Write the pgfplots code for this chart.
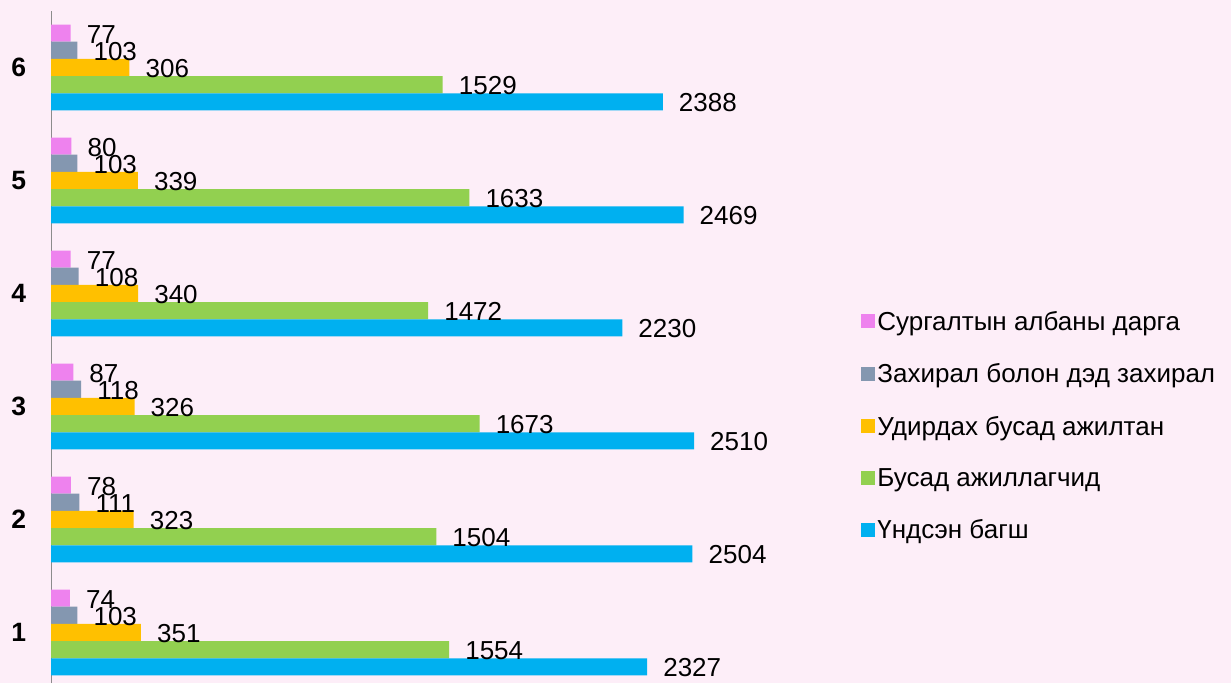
\documentclass[border=0pt]{standalone}
\usepackage{pgfplots}
\pgfplotsset{compat=1.18}
\usepackage{fontspec}
\setmainfont{Liberation Sans}
\definecolor{bgpink}{HTML}{FDEEF8}
\definecolor{cpink}{HTML}{EE82EE}
\definecolor{cgrey}{HTML}{8497B0}
\definecolor{cgold}{HTML}{FFC000}
\definecolor{cgreen}{HTML}{92D050}
\definecolor{cblue}{HTML}{00B0F0}
\begin{document}
\begin{tikzpicture}[x=1pt,y=1pt]
\fill[bgpink] (0,0) rectangle (1231,683);
\begin{axis}[
  at={(51pt,0pt)}, anchor=south west,
  scale only axis, width=643pt, height=672pt,
  xmin=0, xmax=2510, ymin=0.553, ymax=6.50,
  clip=false,
  xbar, bar width=0.152,
  axis x line=none, axis y line*=left,
  y axis line style={draw=gray!90},
  ytick={1,2,3,4,5,6}, ytick style={draw=none},
  /pgf/number format/assume math mode=true,
  /pgf/number format/1000 sep={},
  yticklabel style={font=\fontsize{26.5}{26.5}\selectfont\bfseries, xshift=-17pt},
  nodes near coords,
  every node near coord/.append style={font=\fontsize{26}{26}\selectfont, anchor=west, inner sep=0pt, xshift=16pt, yshift=-1pt, black},
  legend cell align=left,
  legend image code/.code={\fill[#1,draw=none] (0pt,-7pt) rectangle (14pt,7pt);},
  legend style={draw=none, fill=none, font=\fontsize{26}{26}\selectfont,
    at={(1.26,0.383)}, anchor=west, row sep=27.8pt, inner sep=0pt,
    /tikz/every even column/.append style={column sep=7pt}},
]
\addplot[fill=cpink, draw=none, bar shift=0.304] coordinates {(74,1) (78,2) (87,3) (77,4) (80,5) (77,6)};
\addlegendentry{Сургалтын албаны дарга}
\addplot[fill=cgrey, draw=none, bar shift=0.152] coordinates {(103,1) (111,2) (118,3) (108,4) (103,5) (103,6)};
\addlegendentry{Захирал болон дэд захирал}
\addplot[fill=cgold, draw=none, bar shift=0] coordinates {(351,1) (323,2) (326,3) (340,4) (339,5) (306,6)};
\addlegendentry{Удирдах бусад ажилтан}
\addplot[fill=cgreen, draw=none, bar shift=-0.152] coordinates {(1554,1) (1504,2) (1673,3) (1472,4) (1633,5) (1529,6)};
\addlegendentry{Бусад ажиллагчид}
\addplot[fill=cblue, draw=none, bar shift=-0.304] coordinates {(2327,1) (2504,2) (2510,3) (2230,4) (2469,5) (2388,6)};
\addlegendentry{Үндсэн багш}
\end{axis}
\useasboundingbox (0,0) rectangle (1231,683);
\end{tikzpicture}
\end{document}
